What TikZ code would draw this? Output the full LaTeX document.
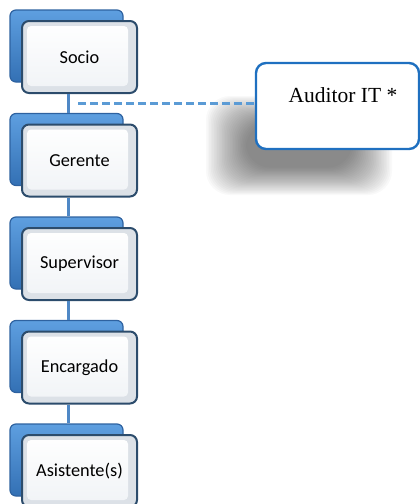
\documentclass[tikz,border=0pt]{standalone}
\usepackage{fontspec}
\newfontfamily\calib{Carlito}
\newfontfamily\audfont{Liberation Serif}
\usetikzlibrary{calc}
\definecolor{backtop}{HTML}{5E9FE0}
\definecolor{backbot}{HTML}{3370B4}
\definecolor{backedge}{HTML}{2E62A0}
\definecolor{frontedge}{HTML}{2C4C6C}
\definecolor{bevel}{HTML}{DCE1E7}
\definecolor{panelbot}{HTML}{F0F3F6}
\definecolor{linkblue}{HTML}{4F88C6}
\definecolor{dashblue}{HTML}{5B9BD5}
\definecolor{audedge}{HTML}{1F70C0}
\tikzset{
  backbox/.style={draw=backedge, line width=1.2pt, top color=backtop, bottom color=backbot,
    rounded corners=6pt, minimum width=113pt, minimum height=72pt, inner sep=0pt},
  frontbox/.style={draw=frontedge, line width=2pt, fill=bevel, rounded corners=7pt,
    minimum width=115pt, minimum height=72pt, inner sep=0pt,
    font=\calib\fontsize{18.3}{21}\selectfont,
    path picture={\shade[top color=white, bottom color=panelbot, rounded corners=4pt]
      ([xshift=5pt,yshift=-5pt]path picture bounding box.north west) rectangle
      ([xshift=-9pt,yshift=7pt]path picture bounding box.south east);}},
  vlink/.style={fill=linkblue},
  dashline/.style={draw=dashblue, line width=3pt, dash pattern=on 8pt off 4pt},
  audbox/.style={draw=audedge, line width=2.4pt, fill=white, rounded corners=10pt,
    minimum width=163pt, minimum height=86pt, inner sep=0pt},
  audtxt/.style={font=\audfont\fontsize{21.5}{24}\selectfont, inner sep=0pt}
}
\begin{document}
\begin{tikzpicture}[x=1pt,y=-1pt]
\useasboundingbox (0,0) rectangle (420,504);
\coordinate (lx) at (66.5,0);
\coordinate (rx) at (69.5,0);
% soft shadow of the auditor box
\foreach \i in {0,...,25}
  \fill[black,opacity=0.022,rounded corners=24pt]
    ({206+1.6*\i},{96+1.1*\i}) rectangle ({392-1.6*\i},{195-1.1*\i});
% boxes
\foreach \k/\t in {1/Socio,2/Gerente,3/Supervisor,4/Encargado,5/Asistente(s)}{
  \pgfmathsetmacro{\c}{57+103.5*(\k-1)}
  \node[backbox] (b\k) at (66.5,\c-11) {};
  \node[frontbox] (s\k) at (79.5,\c) {\t};
}
\node[audbox] (aud) at (337.5,106) {};
\node[audtxt] (audt) at (343,95) {Auditor IT *};
\coordinate (d0) at (78,103);
% connectors between the levels (3pt wide bars)
\fill[vlink] (s1.south -| lx) rectangle (b2.north -| rx);
\fill[vlink] (s2.south -| lx) rectangle (b3.north -| rx);
\fill[vlink] (s3.south -| lx) rectangle (b4.north -| rx);
\fill[vlink] (s4.south -| lx) rectangle (b5.north -| rx);
\draw[dashline] (d0) -- (d0 -| aud.west);
\end{tikzpicture}
\end{document}
